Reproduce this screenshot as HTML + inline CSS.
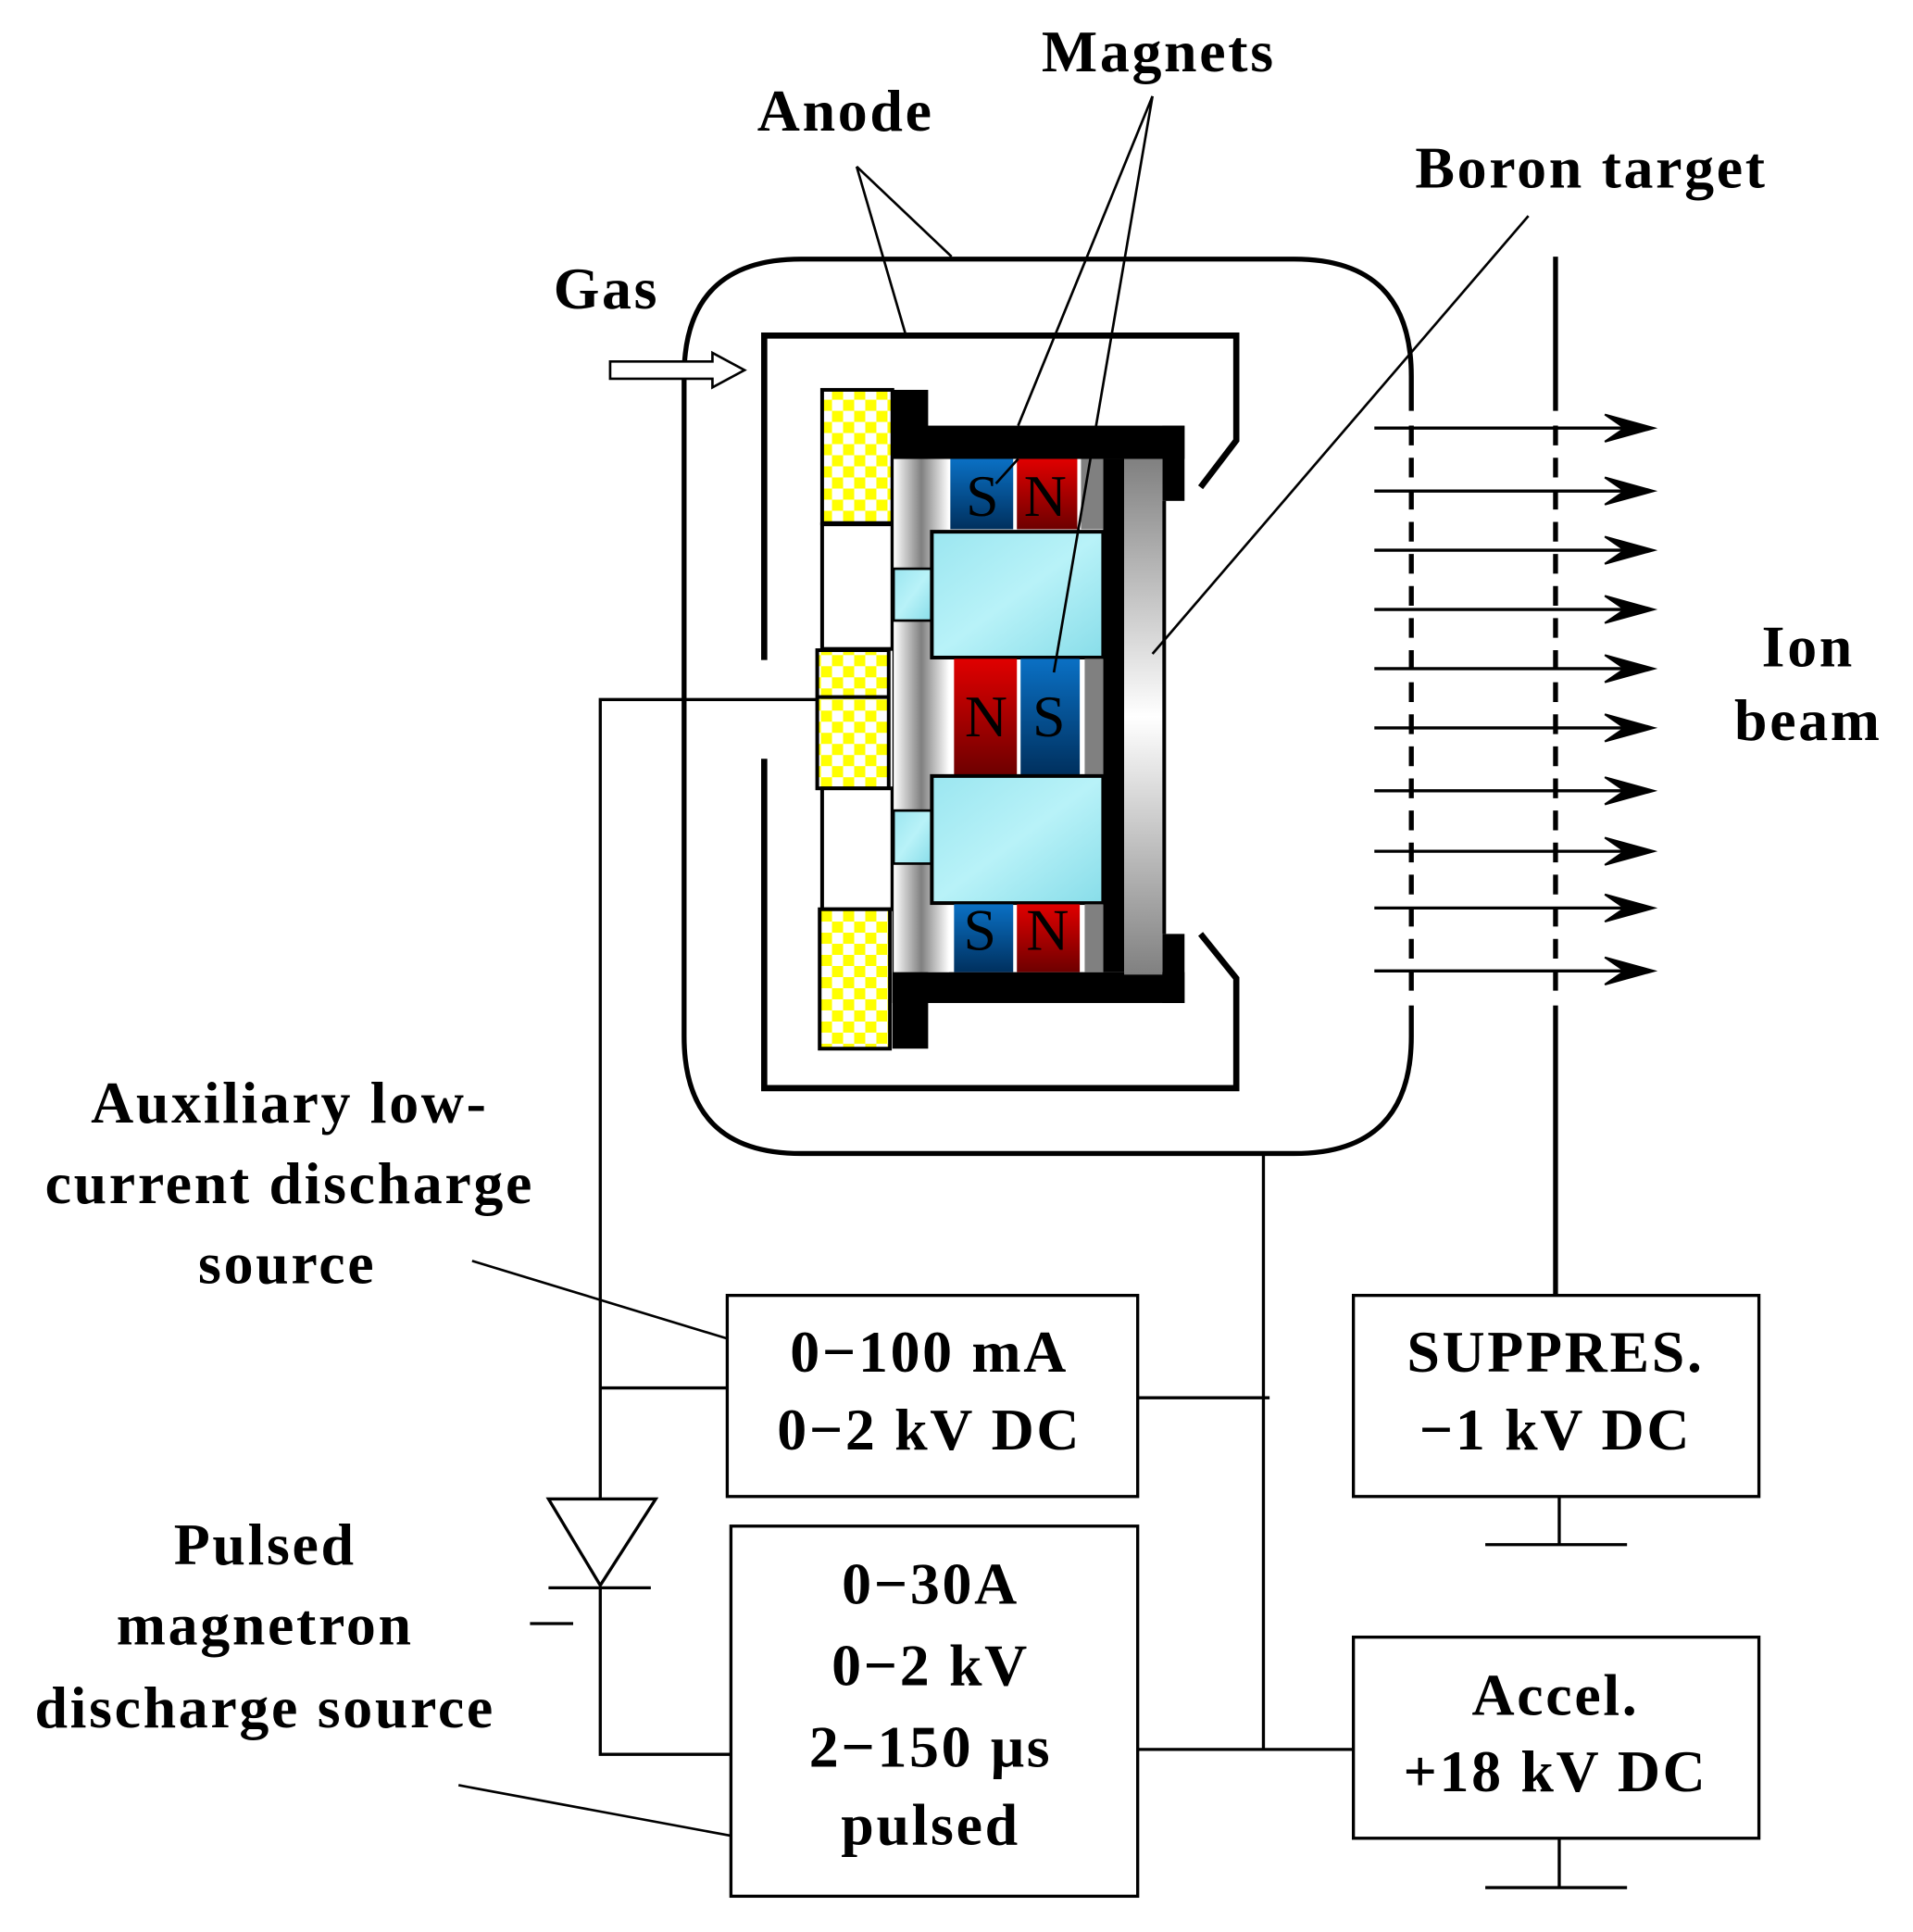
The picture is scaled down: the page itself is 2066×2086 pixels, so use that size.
<!DOCTYPE html>
<html><head><meta charset="utf-8"><style>html,body{margin:0;padding:0;background:#fff}svg{display:block}</style></head><body>
<svg width="2066" height="2086" viewBox="0 0 1552 1566" preserveAspectRatio="none" xmlns="http://www.w3.org/2000/svg">
<defs>
<linearGradient id="blue" x1="0" y1="0" x2="0" y2="1"><stop offset="0" stop-color="#0a70c4"/><stop offset="1" stop-color="#00305e"/></linearGradient>
<linearGradient id="red" x1="0" y1="0" x2="0" y2="1"><stop offset="0" stop-color="#e00000"/><stop offset="1" stop-color="#6e0000"/></linearGradient>
<linearGradient id="cyan" x1="0" y1="0" x2="1" y2="1"><stop offset="0" stop-color="#9be6f0"/><stop offset="0.5" stop-color="#b8f2f8"/><stop offset="1" stop-color="#88dde9"/></linearGradient>
<linearGradient id="grayh" x1="0" y1="0" x2="1" y2="0"><stop offset="0" stop-color="#fff"/><stop offset="0.5" stop-color="#808080"/><stop offset="1" stop-color="#fff"/></linearGradient>
<linearGradient id="grayv" x1="0" y1="0" x2="0" y2="1"><stop offset="0" stop-color="#808080"/><stop offset="0.5" stop-color="#fff"/><stop offset="1" stop-color="#808080"/></linearGradient>
<pattern id="chk" width="18" height="18" patternUnits="userSpaceOnUse"><rect width="18" height="18" fill="#fff"/><rect width="9" height="9" fill="#ff0"/><rect x="9" y="9" width="9" height="9" fill="#ff0"/></pattern>
</defs>
<g fill="none" stroke="#000">
<path d="M1145 333 V305 Q1145 210 1050 210 H650 Q555 210 555 305 V840 Q555 935 650 935 H1050 Q1145 935 1145 840 V815" stroke-width="4"/>
<line x1="1145" y1="345" x2="1145" y2="805" stroke-width="4" stroke-dasharray="16,10"/>
<path d="M620 535 V272 H1003 V357 L974 395" stroke-width="5"/>
<path d="M620 615 V882 H1003 V793 L974 757" stroke-width="5"/>
<line x1="1262" y1="208" x2="1262" y2="333" stroke-width="4"/>
<line x1="1262" y1="345" x2="1262" y2="805" stroke-width="4" stroke-dasharray="16,10"/>
<line x1="1262" y1="815" x2="1262" y2="1050" stroke-width="4"/>
</g>
<rect x="667" y="316" width="57" height="108" fill="url(#chk)" stroke="#000" stroke-width="3"/>
<rect x="667" y="425" width="57" height="101" fill="#fff" stroke="#000" stroke-width="3"/>
<rect x="663" y="527" width="58" height="112" fill="url(#chk)" stroke="#000" stroke-width="3"/>
<line x1="663" y1="565" x2="721" y2="565" stroke="#000" stroke-width="3"/>
<rect x="667" y="639" width="57" height="98" fill="#fff" stroke="#000" stroke-width="3"/>
<rect x="665" y="737" width="57" height="113" fill="url(#chk)" stroke="#000" stroke-width="3"/>
<rect x="724" y="316" width="29" height="534" fill="#000"/>
<rect x="724" y="345" width="237" height="27" fill="#000"/>
<rect x="943" y="345" width="18" height="61" fill="#000"/>
<rect x="724" y="788" width="237" height="25" fill="#000"/>
<rect x="943" y="757" width="18" height="56" fill="#000"/>
<rect x="895" y="372" width="17" height="416" fill="#000"/>
<rect x="912" y="372" width="31" height="418" fill="url(#grayv)"/>
<rect x="943" y="406" width="3" height="351" fill="#000"/>
<rect x="725" y="372" width="45" height="416" fill="url(#grayh)"/>
<rect x="725" y="461" width="31" height="42" fill="url(#cyan)" stroke="#000" stroke-width="2"/>
<rect x="725" y="657" width="31" height="43" fill="url(#cyan)" stroke="#000" stroke-width="2"/>
<rect x="771" y="372" width="51" height="57" fill="url(#blue)"/>
<rect x="825" y="372" width="49" height="57" fill="url(#red)"/>
<rect x="877" y="372" width="18" height="57" fill="#808080"/>
<rect x="756" y="431" width="139" height="102" fill="url(#cyan)" stroke="#000" stroke-width="3"/>
<rect x="774" y="534" width="51" height="94" fill="url(#red)"/>
<rect x="828" y="534" width="48" height="94" fill="url(#blue)"/>
<rect x="880" y="534" width="15" height="94" fill="#808080"/>
<rect x="756" y="629" width="139" height="103" fill="url(#cyan)" stroke="#000" stroke-width="3"/>
<rect x="774" y="733" width="48" height="55" fill="url(#blue)"/>
<rect x="825" y="733" width="51" height="55" fill="url(#red)"/>
<rect x="880" y="733" width="15" height="55" fill="#808080"/>
<g font-family="Liberation Serif, serif" font-size="48" fill="#000" text-anchor="middle">
<text x="797" y="418">S</text><text x="848" y="418">N</text>
<text x="800" y="597">N</text><text x="851" y="597">S</text>
<text x="795" y="770">S</text><text x="850" y="770">N</text>
</g>
<g stroke="#000" stroke-width="2" fill="none">
<line x1="935" y1="78" x2="826" y2="345"/><line x1="826" y1="372" x2="808" y2="392"/>
<line x1="935" y1="78" x2="855" y2="545"/>
<line x1="695" y1="135" x2="735" y2="272"/><line x1="695" y1="135" x2="772" y2="208"/>
<line x1="1240" y1="175" x2="935" y2="530"/>
<line x1="383" y1="1022" x2="590" y2="1085"/>
<line x1="372" y1="1447" x2="593" y2="1488"/>
</g>
<path d="M495 293 H578 V286 L604 300 L578 314 V307 H495 Z" fill="#fff" stroke="#000" stroke-width="2"/>
<g stroke="#000" stroke-width="2.5">
<g id="ar"><line x1="1115" y1="347" x2="1320" y2="347"/><path d="M1342 347 L1302 336 L1318 347 L1302 358 Z" fill="#000" stroke-width="1.5"/></g>
<use href="#ar" y="51"/><use href="#ar" y="99"/><use href="#ar" y="147"/><use href="#ar" y="195"/>
<use href="#ar" y="243"/><use href="#ar" y="294"/><use href="#ar" y="343"/><use href="#ar" y="389"/><use href="#ar" y="440"/>
</g>
<g stroke="#000" stroke-width="2.5" fill="none">
<polyline points="663,567 487,567 487,1215"/>
<line x1="487" y1="1125" x2="590" y2="1125"/>
<rect x="590" y="1050" width="333" height="163"/>
<rect x="593" y="1237" width="330" height="300"/>
<rect x="1098" y="1050" width="329" height="163"/>
<rect x="1098" y="1327" width="329" height="163"/>
<line x1="923" y1="1133" x2="1030" y2="1133"/>
<line x1="1025" y1="935" x2="1025" y2="1418"/>
<line x1="923" y1="1418" x2="1098" y2="1418"/>
<polygon points="445,1215 532,1215 487,1285"/>
<line x1="445" y1="1287" x2="528" y2="1287"/>
<line x1="430" y1="1316" x2="465" y2="1316"/>
<polyline points="487,1287 487,1422 593,1422"/>
<line x1="1265" y1="1213" x2="1265" y2="1252"/><line x1="1205" y1="1252" x2="1320" y2="1252"/>
<line x1="1265" y1="1490" x2="1265" y2="1530"/><line x1="1205" y1="1530" x2="1320" y2="1530"/>
</g>
<g font-family="Liberation Serif, serif" font-weight="bold" font-size="48" fill="#000" text-anchor="middle" letter-spacing="2">
<text x="940" y="58">Magnets</text>
<text x="686" y="106">Anode</text>
<text x="1291" y="152">Boron target</text>
<text x="492" y="250">Gas</text>
<text x="1467" y="540">Ion</text>
<text x="1467" y="600">beam</text>
<text x="235" y="910">Auxiliary low-</text>
<text x="235" y="975">current discharge</text>
<text x="233" y="1040">source</text>
<text x="215" y="1268">Pulsed</text>
<text x="215" y="1333">magnetron</text>
<text x="215" y="1400">discharge source</text>
<text x="754" y="1112">0−100 mA</text>
<text x="754" y="1175">0−2 kV DC</text>
<text x="755" y="1300">0−30A</text>
<text x="755" y="1366">0−2 kV</text>
<text x="755" y="1432">2−150 μs</text>
<text x="755" y="1495">pulsed</text>
<text x="1262" y="1112">SUPPRES.</text>
<text x="1262" y="1175">−1 kV DC</text>
<text x="1262" y="1390">Accel.</text>
<text x="1262" y="1452">+18 kV DC</text>
</g>
</svg>
</body></html>
